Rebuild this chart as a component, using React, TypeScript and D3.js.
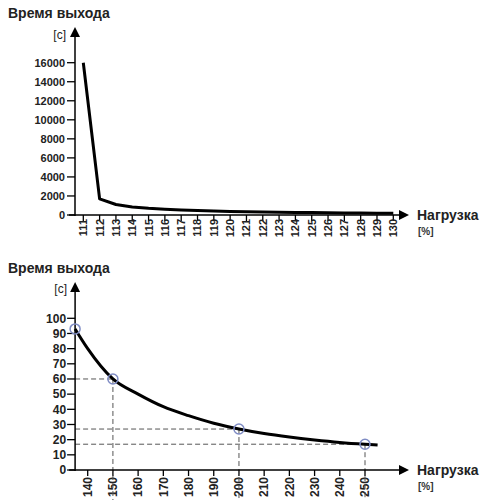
import React from "react";
import * as d3 from "d3";

const titleText = "Время выхода";
const yUnit = "[c]";
const xTitle = "Нагрузка";
const xUnit = "[%]";

// Top chart
const topLoads = [111, 112, 113, 114, 115, 116, 117, 118, 119, 120, 121, 122, 123, 124, 125, 126, 127, 128, 129, 130];
const topTimes = [16000, 1700, 1100, 850, 700, 600, 520, 460, 410, 370, 340, 310, 290, 270, 250, 230, 215, 200, 190, 180];
const topYTicks = [0, 2000, 4000, 6000, 8000, 10000, 12000, 14000, 16000];

// Bottom chart
const botLoads = [135, 140, 150, 160, 170, 180, 190, 200, 210, 220, 230, 240, 250, 255];
const botTimes = [93, 80, 60, 50, 41.7, 35.8, 30.8, 27, 24, 21.7, 19.8, 18.2, 17, 16.5];
const botXTicks = [140, 150, 160, 170, 180, 190, 200, 210, 220, 230, 240, 250];
const botYTicks = [0, 10, 20, 30, 40, 50, 60, 70, 80, 90, 100];
const markLoads = [135, 150, 200, 250];
const markTimes = [93, 60, 27, 17];

const FONT = "'Liberation Sans', Arial, sans-serif";

function Arrows({ ax, ay, xEnd, yTop }: { ax: number; ay: number; xEnd: number; yTop: number }) {
  return (
    <g>
      <line x1={ax} x2={ax} y1={ay + 1} y2={yTop + 8} stroke="#000" strokeWidth={1.5} />
      <path d={`M${ax},${yTop} L${ax - 5},${yTop + 10} L${ax + 5},${yTop + 10} Z`} fill="#000" />
      <line x1={ax - 6} x2={xEnd - 8} y1={ay} y2={ay} stroke="#000" strokeWidth={1.5} />
      <path d={`M${xEnd},${ay} L${xEnd - 10},${ay - 5} L${xEnd - 10},${ay + 5} Z`} fill="#000" />
    </g>
  );
}

export default function App() {
  // top scales
  const xT = d3.scaleLinear().domain([111, 130]).range([83.3, 393.3]);
  const yT = d3.scaleLinear().domain([0, 16000]).range([215, 62.7]);
  const lineT = d3
    .line<number>()
    .x((_, i) => xT(topLoads[i]))
    .y((d) => yT(d))
    .curve(d3.curveLinear);

  // bottom scales
  const xB = d3.scaleLinear().domain([140, 250]).range([87.7, 365]);
  const yB = d3.scaleLinear().domain([0, 100]).range([470, 318.3]);
  const lineB = d3
    .line<number>()
    .x((_, i) => xB(botLoads[i]))
    .y((d) => yB(d))
    .curve(d3.curveMonotoneX);

  const axT = 75;
  const axB = xB(135);

  return (
    <svg width={481} height={502} style={{ position: "absolute", left: 0, top: 0 }} fontFamily={FONT}>
      <rect width={481} height={502} fill="#fff" />
      {/* ===== Top chart ===== */}
      <text x={8} y={18} fontSize={14} fontWeight="bold" fill="#222">{titleText}</text>
      <text x={66} y={39} fontSize={12} textAnchor="end" fill="#222">{yUnit}</text>
      {topYTicks.map((t) => (
        <g key={t}>
          <line x1={axT - 8} x2={axT} y1={yT(t)} y2={yT(t)} stroke="#000" strokeWidth={1.3} />
          <text x={axT - 10} y={yT(t)} dy="0.36em" fontSize={11} fontWeight="bold" textAnchor="end" fill="#222">
            {t}
          </text>
        </g>
      ))}
      {topLoads.map((t) => (
        <g key={t}>
          <line x1={xT(t)} x2={xT(t)} y1={215} y2={221} stroke="#000" strokeWidth={1.3} />
          <text
            transform={`translate(${xT(t)},${219}) rotate(-90)`}
            dy="0.36em"
            fontSize={11}
            fontWeight="bold"
            textAnchor="end"
            fill="#222"
          >
            {t}
          </text>
        </g>
      ))}
      <Arrows ax={axT} ay={215} xEnd={409} yTop={27} />
      <path d={lineT(topTimes) || ""} fill="none" stroke="#000" strokeWidth={3} strokeLinejoin="round" />
      <text x={417} y={220} fontSize={14} fontWeight="bold" fill="#222">{xTitle}</text>
      <text x={418} y={235} fontSize={10} fontWeight="bold" fill="#333">{xUnit}</text>

      {/* ===== Bottom chart ===== */}
      <text x={8} y={273} fontSize={14} fontWeight="bold" fill="#222">{titleText}</text>
      <text x={67} y={293} fontSize={12} textAnchor="end" fill="#222">{yUnit}</text>
      {botYTicks.map((t) => (
        <g key={t}>
          <line x1={axB - 8} x2={axB} y1={yB(t)} y2={yB(t)} stroke="#000" strokeWidth={1.3} />
          <text x={axB - 9} y={yB(t)} dy="0.36em" fontSize={12} fontWeight="bold" textAnchor="end" fill="#222">
            {t}
          </text>
        </g>
      ))}
      {botXTicks.map((t) => (
        <g key={t}>
          <line x1={xB(t)} x2={xB(t)} y1={470} y2={476} stroke="#000" strokeWidth={1.3} />
          <text
            transform={`translate(${xB(t)},${477}) rotate(-90)`}
            dy="0.36em"
            fontSize={12}
            fontWeight="bold"
            textAnchor="end"
            fill="#222"
          >
            {t}
          </text>
        </g>
      ))}
      {/* dashed guides */}
      {markLoads.slice(1).map((l, i) => (
        <g key={l}>
          <line
            x1={axB}
            x2={xB(l)}
            y1={yB(markTimes[i + 1])}
            y2={yB(markTimes[i + 1])}
            stroke="#555"
            strokeWidth={1}
            strokeDasharray="5,3"
          />
          <line
            x1={xB(l)}
            x2={xB(l)}
            y1={yB(markTimes[i + 1])}
            y2={500}
            stroke="#555"
            strokeWidth={1}
            strokeDasharray="5,3"
          />
        </g>
      ))}
      <Arrows ax={axB} ay={470} xEnd={409} yTop={282} />
      <path d={lineB(botTimes) || ""} fill="none" stroke="#000" strokeWidth={3} />
      {markLoads.map((l, i) => (
        <circle key={l} cx={xB(l)} cy={yB(markTimes[i])} r={5} fill="none" stroke="#7f8cc4" strokeWidth={1.5} />
      ))}
      <text x={417} y={475} fontSize={14} fontWeight="bold" fill="#222">{xTitle}</text>
      <text x={418} y={490} fontSize={10} fontWeight="bold" fill="#333">{xUnit}</text>
    </svg>
  );
}
